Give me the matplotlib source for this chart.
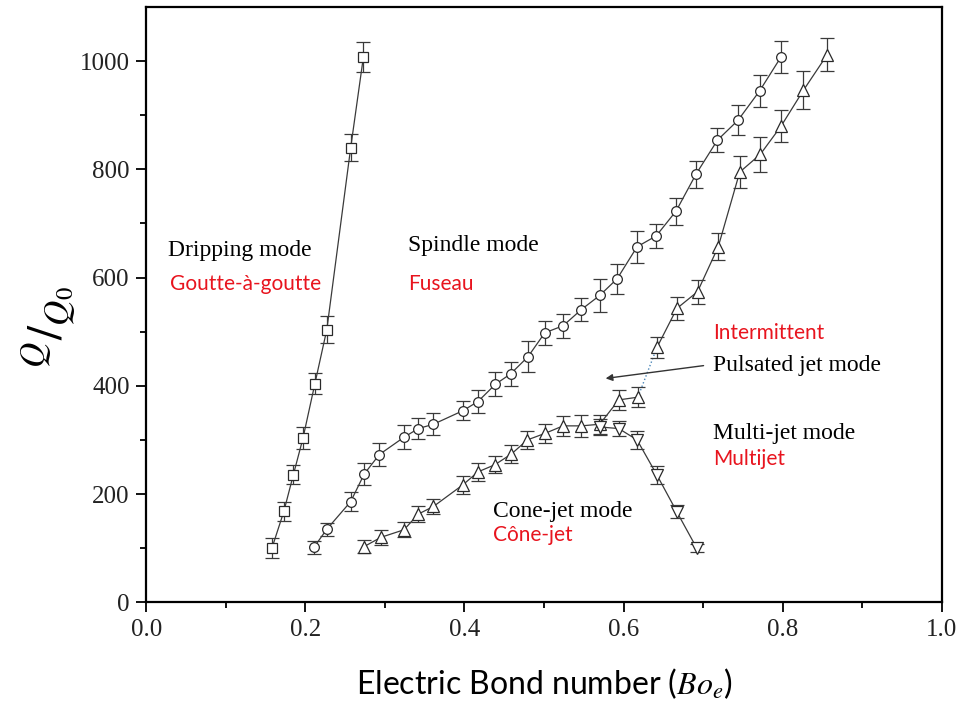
import matplotlib
matplotlib.use("Agg")
import matplotlib.pyplot as plt

# Dripping mode (squares)
drip_x = [0.158, 0.173, 0.185, 0.197, 0.212, 0.227, 0.257, 0.273]
drip_y = [100, 168, 236, 303, 404, 504, 840, 1008]
drip_err = [18, 18, 18, 20, 20, 25, 25, 28]

# Spindle mode (circles)
spin_x = [0.211, 0.227, 0.257, 0.274, 0.293, 0.324, 0.342, 0.361, 0.398, 0.417,
          0.439, 0.458, 0.480, 0.501, 0.524, 0.547, 0.570, 0.592, 0.617, 0.641,
          0.666, 0.691, 0.718, 0.744, 0.771, 0.798]
spin_y = [102, 135, 186, 237, 273, 305, 321, 329, 354, 371,
          403, 422, 454, 498, 511, 541, 567, 598, 657, 677,
          723, 791, 854, 891, 945, 1008]
spin_err = [12, 12, 18, 20, 22, 22, 20, 20, 18, 22,
            22, 22, 28, 22, 22, 22, 30, 28, 30, 22,
            25, 25, 22, 28, 30, 30]

# Cone-jet / pulsated / multi-jet (up triangles)
tri_x = [0.274, 0.295, 0.324, 0.342, 0.361, 0.398, 0.417, 0.438, 0.459, 0.479,
         0.501, 0.524, 0.547, 0.570, 0.594, 0.618, 0.642, 0.667, 0.693, 0.719,
         0.746, 0.772, 0.798, 0.826, 0.856]
tri_y = [103, 120, 134, 163, 177, 217, 241, 254, 274, 300,
         312, 326, 326, 329, 374, 379, 471, 543, 574, 657,
         795, 828, 880, 946, 1012]
tri_err = [12, 14, 14, 14, 14, 16, 16, 16, 16, 16,
           18, 18, 20, 18, 18, 18, 20, 22, 22, 25,
           30, 32, 30, 35, 30]

# Multi-jet branch (down triangles)
down_x = [0.570, 0.594, 0.617, 0.642, 0.667, 0.692]
down_y = [324, 321, 300, 235, 167, 100]
down_err = [14, 14, 16, 16, 12, 8]

red = "#e8141e"
serif = "Liberation Serif"
sans = "Lato"

plt.rcParams["font.family"] = serif
plt.rcParams["mathtext.fontset"] = "stix"

fig = plt.figure(figsize=(9.62, 7.04), dpi=100)
ax = fig.add_axes([0.152, 0.1445, 0.827, 0.8455])

ebkw = dict(color="#3a3a3a", lw=0.9, elinewidth=0.9, capsize=5, capthick=0.9,
            mfc="white", mec="#2a2a2a", mew=0.9, ms=7)

ax.errorbar(drip_x, drip_y, yerr=drip_err, fmt="-s", **ebkw)
ax.errorbar(spin_x, spin_y, yerr=spin_err, fmt="-o", **ebkw)

# up triangles: solid before the gap, dotted across it, solid after
k = tri_x.index(0.618)
ax.plot(tri_x[:k + 1], tri_y[:k + 1], "-", color="#3a3a3a", lw=0.9)
ax.plot(tri_x[k:k + 2], tri_y[k:k + 2], ":", color="#4a86b8", lw=1.0)
ax.plot(tri_x[k + 1:], tri_y[k + 1:], "-", color="#3a3a3a", lw=0.9)
ax.errorbar(tri_x, tri_y, yerr=tri_err, fmt="^", **{**ebkw, "ms": 8})
ax.errorbar(down_x, down_y, yerr=down_err, fmt="-v", **{**ebkw, "ms": 8})

ax.set_xlim(0, 1.0)
ax.set_ylim(0, 1100)
ax.set_xticks([0, 0.2, 0.4, 0.6, 0.8, 1.0])
ax.set_xticks([0.1, 0.3, 0.5, 0.7, 0.9], minor=True)
ax.set_yticks([0, 200, 400, 600, 800, 1000])
ax.set_yticks([100, 300, 500, 700, 900], minor=True)
ax.tick_params(axis="both", which="major", direction="out", length=7, width=1.3,
               labelsize=18, labelcolor="#222222", pad=5)
ax.tick_params(axis="both", which="minor", direction="out", length=4, width=1.3)
for s in ax.spines.values():
    s.set_linewidth(1.6)

# mode labels
ax.text(0.027, 640, "Dripping mode", fontsize=17, family=serif)
ax.text(0.030, 578, "Goutte-à-goutte", fontsize=15, family=sans, color=red)
ax.text(0.329, 650, "Spindle mode", fontsize=17, family=serif)
ax.text(0.329, 578, "Fuseau", fontsize=15, family=sans, color=red)
ax.text(0.712, 486, "Intermittent", fontsize=15, family=sans, color=red)
ax.text(0.712, 427, "Pulsated jet mode", fontsize=17, family=serif)
ax.text(0.712, 302, "Multi-jet mode", fontsize=17, family=serif)
ax.text(0.712, 253, "Multijet", fontsize=15, family=sans, color=red)
ax.text(0.436, 158, "Cone-jet mode", fontsize=17, family=serif)
ax.text(0.436, 113, "Cône-jet", fontsize=15, family=sans, color=red)

ax.annotate("", xy=(0.574, 413), xytext=(0.704, 438),
            arrowprops=dict(arrowstyle="-|>", color="#333333", lw=1.0,
                            mutation_scale=10))

ax.set_xlabel(r"Electric Bond number ($Bo_e$)", fontsize=23, family=sans,
              labelpad=18)
ax.set_ylabel(r"$^{Q}/_{Q_0}$", fontsize=36)
ax.yaxis.set_label_coords(-0.086, 0.462)

plt.savefig("out.png", dpi=100)
